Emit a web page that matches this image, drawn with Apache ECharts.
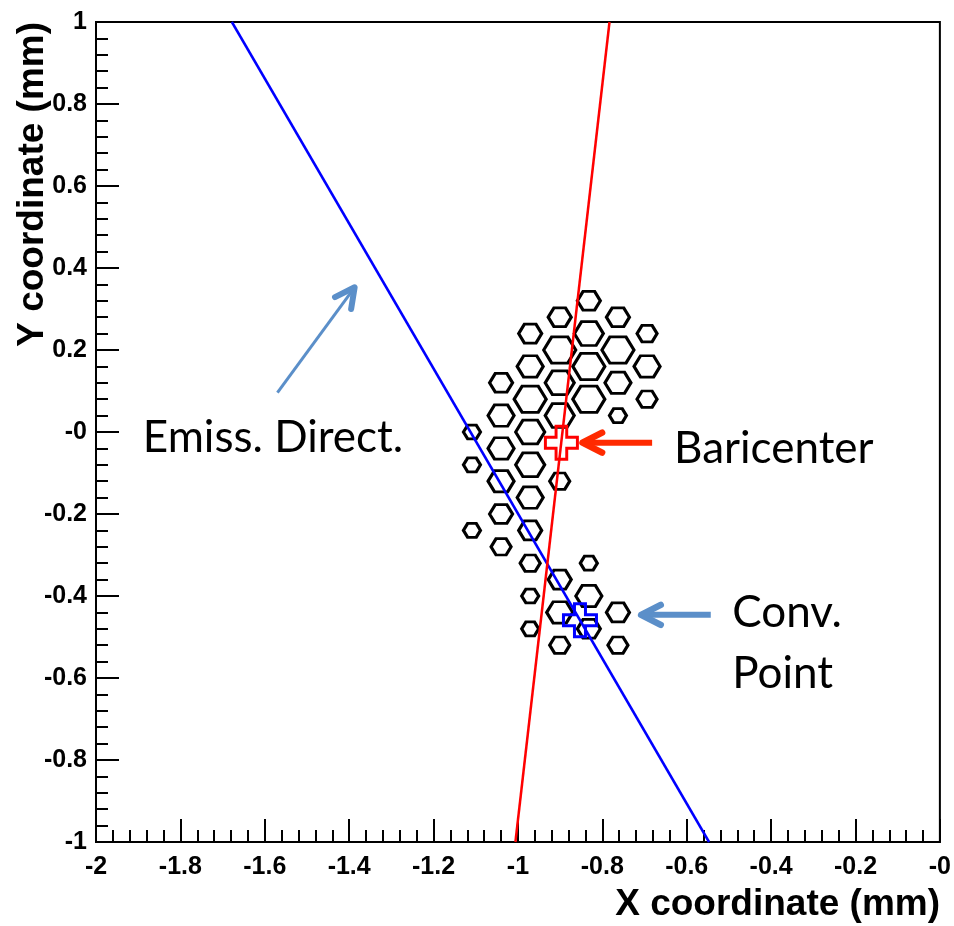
<!DOCTYPE html>
<html>
<head>
<meta charset="utf-8">
<title>Emission direction</title>
<style>
  html, body { margin: 0; padding: 0; background: #fff; }
  .main { width: 954px; height: 926px; }
</style>
</head>
<body>
<div class="main"></div>
<script src="https://cdn.jsdelivr.net/npm/echarts@6/dist/echarts.min.js"></script>
<script>
// 六边形格子的中心 (mm) 和内容
var hexX = [-0.832,
  -0.901, -0.763,
  -0.971, -0.832, -0.694,
  -0.901, -0.763,
  -0.971, -0.832, -0.694,
  -1.040, -0.901, -0.763,
  -0.971, -0.832, -0.694,
  -1.040, -0.901, -0.763,
  -1.109, -0.971,
  -1.040,
  -1.109, -0.971,
  -1.040, -0.901,
  -0.971,
  -1.040,
  -1.109, -0.971,
  -1.040,
  -0.971, -0.832,
  -0.901,
  -0.971, -0.832,
  -0.901, -0.763,
  -0.971, -0.832,
  -0.901, -0.763];
var hexY = [0.32,
  0.28, 0.28,
  0.24, 0.24, 0.24,
  0.20, 0.20,
  0.16, 0.16, 0.16,
  0.12, 0.12, 0.12,
  0.08, 0.08, 0.08,
  0.04, 0.04, 0.04,
  0.00, 0.00,
  -0.04,
  -0.08, -0.08,
  -0.12, -0.12,
  -0.16,
  -0.20,
  -0.24, -0.24,
  -0.28,
  -0.32, -0.32,
  -0.36,
  -0.40, -0.40,
  -0.44, -0.44,
  -0.48, -0.48,
  -0.52, -0.52];
var hexCount = [3,
  3, 3,
  3, 5, 2,
  6, 6,
  4, 6, 4,
  3, 5, 4,
  6, 6, 2,
  4, 5, 1,
  1, 5,
  4,
  1, 5,
  4, 2,
  4,
  3,
  1, 3,
  2,
  2, 1,
  3,
  1, 4,
  4, 3,
  1, 3,
  2, 2];

// 两条直线 (端点)
var emissLineX = [-1.678, -0.547];
var emissLineY = [1, -1];
var bariLineX = [-1.006, -0.783];
var bariLineY = [-1, 1];

// 重心和转换点
var bariPoint = [-0.897, -0.026];
var convPoint = [-0.853, -0.459];

// 坐标轴刻度
var xTicks = [-2, -1.8, -1.6, -1.4, -1.2, -1, -0.8, -0.6, -0.4, -0.2, 0];
var yTicks = [-1, -0.8, -0.6, -0.4, -0.2, 0, 0.2, 0.4, 0.6, 0.8, 1];

// 注释文字和箭头 (数据坐标)
var noteText = ['Emiss. Direct.', 'Baricenter', 'Conv.', 'Point'];
var noteX = [-1.889, -0.630, -0.492, -0.492];
var noteY = [-0.014, -0.040, -0.442, -0.589];
var arrowTail = [[-1.570, 0.096], [-0.682, -0.026], [-0.543, -0.446]];
var arrowTip = [[-1.387, 0.353], [-0.847, -0.026], [-0.708, -0.446]];

var hexPath = 'path://M-2,0 L-1,-1.732 L1,-1.732 L2,0 L1,1.732 L-1,1.732 Z';
var crossPath = 'path://M1,0 L2,0 L2,1 L3,1 L3,2 L2,2 L2,3 L1,3 L1,2 L0,2 L0,1 L1,1 Z';

function tickLabel(v) {
  var r = Math.round(v * 10) / 10;
  if (r === 0) return '-0';
  return String(r);
}

var hexData = [];
for (var i = 0; i < hexX.length; i++) {
  hexData.push([hexX[i], hexY[i], hexCount[i]]);
}

var axisFont = { color: '#000', fontFamily: 'Liberation Sans', fontWeight: 'bold', fontSize: 25 };

var chart = echarts.init(document.querySelector('.main'));

var option = {
  backgroundColor: '#fff',
  animation: false,
  grid: {
    left: 96, right: 13, top: 22, bottom: 84,
    show: true, borderColor: '#000', borderWidth: 2
  },
  xAxis: {
    type: 'value',
    min: xTicks[0], max: xTicks[xTicks.length - 1], interval: 0.2,
    axisLine: { onZero: false, lineStyle: { color: '#000', width: 2 } },
    axisTick: { inside: true, length: 23, lineStyle: { color: '#000', width: 2 } },
    minorTick: { show: true, splitNumber: 5, length: 12, lineStyle: { color: '#000', width: 2 } },
    splitLine: { show: false },
    axisLabel: Object.assign({ margin: 13, showMinLabel: true, showMaxLabel: true, formatter: tickLabel }, axisFont)
  },
  yAxis: {
    type: 'value',
    min: yTicks[0], max: yTicks[yTicks.length - 1], interval: 0.2,
    axisLine: { onZero: false, lineStyle: { color: '#000', width: 2 } },
    axisTick: { inside: true, length: 23, lineStyle: { color: '#000', width: 2 } },
    minorTick: { show: true, splitNumber: 5, length: 12, lineStyle: { color: '#000', width: 2 } },
    splitLine: { show: false },
    axisLabel: Object.assign({ margin: 9, showMinLabel: true, showMaxLabel: true, formatter: tickLabel }, axisFont)
  },
  series: [
    {
      // 六边形格子
      type: 'scatter',
      data: hexData,
      symbol: hexPath,
      symbolSize: function (val) {
        var w = 14 + 3 * val[2];
        return [w, w * 0.82];
      },
      itemStyle: { color: 'rgba(0,0,0,0)', borderColor: '#000', borderWidth: 3, opacity: 1 },
      emphasis: { disabled: true },
      z: 2
    },
    {
      type: 'line',
      data: [[emissLineX[0], emissLineY[0]], [emissLineX[1], emissLineY[1]]],
      showSymbol: false, symbol: 'none',
      lineStyle: { color: '#0000ff', width: 2.5 },
      z: 3
    },
    {
      type: 'line',
      data: [[bariLineX[0], bariLineY[0]], [bariLineX[1], bariLineY[1]]],
      showSymbol: false, symbol: 'none',
      lineStyle: { color: '#ff0000', width: 2.5 },
      z: 3
    },
    {
      // 重心 (红色十字)
      type: 'scatter',
      data: [bariPoint],
      symbol: crossPath,
      symbolSize: [32, 33],
      itemStyle: { color: 'rgba(0,0,0,0)', borderColor: '#ff0000', borderWidth: 3, opacity: 1 },
      emphasis: { disabled: true },
      z: 4
    },
    {
      // 转换点 (蓝色十字)
      type: 'scatter',
      data: [convPoint],
      symbol: crossPath,
      symbolSize: [33, 33],
      itemStyle: { color: 'rgba(0,0,0,0)', borderColor: '#0000ff', borderWidth: 3, opacity: 1 },
      emphasis: { disabled: true },
      z: 4
    }
  ]
};

chart.setOption(option);

// 箭头: 直线 + 开口的箭头头部
function arrow(tail, tip, color, w, headW) {
  var a = chart.convertToPixel({ gridIndex: 0 }, tail);
  var b = chart.convertToPixel({ gridIndex: 0 }, tip);
  var ang = Math.atan2(a[1] - b[1], a[0] - b[0]);
  var L = 22, th = 27 * Math.PI / 180;
  var p1 = [b[0] + L * Math.cos(ang + th), b[1] + L * Math.sin(ang + th)];
  var p2 = [b[0] + L * Math.cos(ang - th), b[1] + L * Math.sin(ang - th)];
  return [
    { type: 'line', shape: { x1: a[0], y1: a[1], x2: b[0], y2: b[1] },
      style: { stroke: color, lineWidth: w, lineCap: 'butt' }, z: 10 },
    { type: 'polyline', shape: { points: [p1, b, p2] },
      style: { stroke: color, fill: null, lineWidth: headW, lineCap: 'round', lineJoin: 'round' }, z: 10 }
  ];
}

var graphics = [];
var arrowColor = ['#5b8fc9', '#ff2a00', '#5b8fc9'];
var arrowWidth = [3, 6, 6];
var headWidth = [6, 6.5, 6.5];
for (var k = 0; k < arrowTail.length; k++) {
  graphics = graphics.concat(arrow(arrowTail[k], arrowTip[k], arrowColor[k], arrowWidth[k], headWidth[k]));
}
for (var j = 0; j < noteText.length; j++) {
  var p = chart.convertToPixel({ gridIndex: 0 }, [noteX[j], noteY[j]]);
  graphics.push({
    type: 'text', x: p[0], y: p[1], z: 10,
    style: { text: noteText[j], fill: '#000', fontFamily: 'Lato', fontSize: 44,
      align: 'left', verticalAlign: 'middle', textAlign: 'left', textVerticalAlign: 'middle' }
  });
}
// 坐标轴标题
graphics.push({
  type: 'text', x: 940, y: 905, z: 10,
  style: { text: 'X coordinate (mm)', fill: '#000', fontFamily: 'Liberation Sans', fontWeight: 'bold', fontSize: 37,
    align: 'right', verticalAlign: 'middle', textAlign: 'right', textVerticalAlign: 'middle' }
});
graphics.push({
  type: 'text', x: 33, y: 22, rotation: Math.PI / 2, z: 10,
  style: { text: 'Y coordinate (mm)', fill: '#000', fontFamily: 'Liberation Sans', fontWeight: 'bold', fontSize: 37,
    align: 'right', verticalAlign: 'middle', textAlign: 'right', textVerticalAlign: 'middle' }
});

chart.setOption({ graphic: graphics });
</script>
</body>
</html>
